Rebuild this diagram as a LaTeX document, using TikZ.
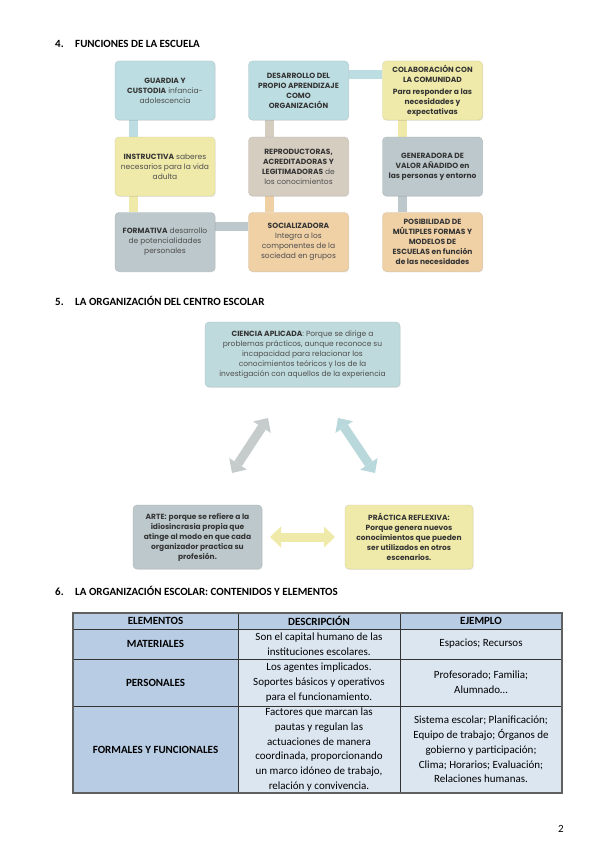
\documentclass[tikz,border=0pt]{standalone}
\usepackage{fontspec}
\setmainfont{Carlito}
\newfontfamily\gothic{Poppins}
\usetikzlibrary{calc,shadows,arrows.meta,backgrounds}
\definecolor{cblue}{HTML}{BCDDE1}
\definecolor{cyel}{HTML}{EFEAA9}
\definecolor{cgray}{HTML}{BCC8CB}
\definecolor{ctan}{HTML}{D6CDC1}
\definecolor{cpeach}{HTML}{F0D0A5}
\definecolor{cciencia}{HTML}{BFDADC}
\definecolor{carL}{HTML}{C6CCCC}
\definecolor{carR}{HTML}{B9D8DC}
\definecolor{txtb}{HTML}{353535}
\definecolor{txtn}{HTML}{4E4E4E}
\definecolor{thead}{HTML}{B8CCE4}
\definecolor{tcell}{HTML}{DCE6F1}
\newcommand\bx[1]{{\bfseries\color{txtb}#1}}
\begin{document}
\begin{tikzpicture}[x=1pt,y=-1pt,
  fbox/.style={rounded corners=4pt, minimum width=100pt, minimum height=59pt,
    inner sep=1pt, align=center, text=txtn,
    font=\gothic\fontsize{7.5}{10}\selectfont,
    fill=#1, draw=#1!88!black, line width=0.3pt,
    drop shadow={opacity=0.18, shadow xshift=0.7pt, shadow yshift=-0.9pt}},
  bar/.style={line width=9pt, draw=#1},
  barrow/.style={line width=9pt, draw=#1,
    arrows={Triangle[width=21pt,length=11pt,line width=0pt]-Triangle[width=21pt,length=11pt,line width=0pt]}},
  head/.style={anchor=base west, inner sep=0pt, font=\bfseries\fontsize{11}{13}\selectfont},
  cell/.style={align=center, inner sep=0pt, font=\fontsize{11}{14.8}\selectfont}]
\useasboundingbox (0,0) rectangle (599,848);

% ---------- Section 4 ----------
\node[head] (h4n) at (55,48) {4.};
\node[head] (h4) at (75,48) {FUNCIONES DE LA ESCUELA};

\node[fbox=cblue] (g) at (165,90.5) {\bx{GUARDIA Y}\\\bx{CUSTODIA} infancia-\\adolescencia};
\node[fbox=cyel] (i) at (165,166.5) {\bx{INSTRUCTIVA} saberes\\necesarios para la vida\\adulta};
\node[fbox=cgray] (f) at (165,242) {\bx{FORMATIVA} desarrollo\\de potencialidades\\personales};
\node[fbox=cpeach] (s) at (298.5,242) {\bx{SOCIALIZADORA}\\Integra a los\\componentes de la\\sociedad en grupos};
\node[fbox=ctan] (r) at (298.5,166.5) {\bx{REPRODUCTORAS,}\\\bx{ACREDITADORAS Y}\\\bx{LEGITIMADORAS} de\\los conocimientos};
\node[fbox=cblue] (d) at (298.5,90.5) {\bx{DESARROLLO DEL}\\\bx{PROPIO APRENDIZAJE}\\\bx{COMO}\\\bx{ORGANIZACIÓN}};
\node[fbox=cyel] (c) at (432.5,90.5) {\bx{COLABORACIÓN CON}\\\bx{LA COMUNIDAD}\\[2pt]\bx{Para responder a las}\\\bx{necesidades y}\\\bx{expectativas}};
\node[fbox=cgray] (v) at (432.5,166.5) {\bx{GENERADORA DE}\\\bx{VALOR AÑADIDO en}\\\bx{las personas y entorno}};
\node[fbox=cpeach] (p) at (432.5,242) {\bx{POSIBILIDAD DE}\\\bx{MÚLTIPLES FORMAS Y}\\\bx{MODELOS DE}\\\bx{ESCUELAS en función}\\\bx{de las necesidades}};

\begin{scope}[on background layer]
  \fill[white] (0,0) rectangle (599,848);
  \draw[bar=cblue]  ($(g.south west)+(18.5,0)$) -- ($(i.north west)+(18.5,0)$);
  \draw[bar=cyel]   ($(i.south west)+(18.5,0)$) -- ($(f.north west)+(18.5,0)$);
  \draw[bar=cgray]  ($(f.north east)+(0,14.5)$) -- ($(s.north west)+(0,14.5)$);
  \draw[bar=cpeach] ($(s.north west)+(21,0)$) -- ($(r.south west)+(21,0)$);
  \draw[bar=ctan]   ($(r.north west)+(21,0)$) -- ($(d.south west)+(21,0)$);
  \draw[bar=cblue]  ($(d.north east)+(0,14)$) -- ($(c.north west)+(0,14)$);
  \draw[bar=cyel]   ($(c.south west)+(20.5,0)$) -- ($(v.north west)+(20.5,0)$);
  \draw[bar=cgray]  ($(v.south west)+(20.5,0)$) -- ($(p.north west)+(20.5,0)$);
\end{scope}

% ---------- Section 5 ----------
\node[head] (h5n) at (55,305) {5.};
\node[head] (h5) at (75,305) {LA ORGANIZACIÓN DEL CENTRO ESCOLAR};

\node[fbox=cciencia, minimum width=195pt, minimum height=65pt] (cien) at (302.5,354.5)
  {\bx{CIENCIA APLICADA}: Porque se dirige a\\problemas prácticos, aunque reconoce su\\incapacidad para relacionar los\\conocimientos teóricos y los de la\\investigación con aquellos de la experiencia};
\node[fbox=cgray, minimum width=129pt, minimum height=64pt] (arte) at (197.5,537)
  {\bx{ARTE:} \bx{porque se refiere a la}\\\bx{idiosincrasia propia que}\\\bx{atinge al modo en que cada}\\\bx{organizador practica su}\\\bx{profesión.}};
\node[fbox=cyel, minimum width=128pt, minimum height=64pt] (prac) at (409,537)
  {\bx{PRÁCTICA REFLEXIVA:}\\\bx{Porque genera nuevos}\\\bx{conocimientos que pueden}\\\bx{ser utilizados en otros}\\\bx{escenarios.}};

\coordinate (la1) at (232,473); \coordinate (la2) at (268,418);
\coordinate (ra1) at (338,418); \coordinate (ra2) at (375,473);
\coordinate (ha1) at (270,537); \coordinate (ha2) at (335,537);
\draw[barrow=carL] (la1) -- (la2);
\draw[barrow=carR] (ra1) -- (ra2);
\draw[barrow=cyel] (ha1) -- (ha2);

% ---------- Section 6 ----------
\node[head] (h6n) at (55,595) {6.};
\node[head] (h6) at (75,595) {LA ORGANIZACIÓN ESCOLAR: CONTENIDOS Y ELEMENTOS};

\fill[tcell] (238,629) rectangle (562,793);
\fill[thead] (73,613) rectangle (562,629);
\fill[thead] (73,629) rectangle (238,793);
\draw[black!80, line width=0.6pt] (238,613) -- (238,793) (400,613) -- (400,793)
  (73,629) -- (562,629) (73,659) -- (562,659) (73,706) -- (562,706);
\draw[gray!75!black, line width=1.2pt] (73,613) rectangle (562,793);

\node[cell] (t11) at (155.5,621) {\bfseries ELEMENTOS};
\node[cell] (t12) at (319,621) {\bfseries DESCRIPCIÓN};
\node[cell] (t13) at (481,621) {\bfseries EJEMPLO};
\node[cell] (t21) at (155.5,644) {\bfseries MATERIALES};
\node[cell] (t22) at (319,644) {Son el capital humano de las\\instituciones escolares.};
\node[cell] (t23) at (481,644) {Espacios; Recursos};
\node[cell] (t31) at (155.5,682.5) {\bfseries PERSONALES};
\node[cell] (t32) at (319,682.5) {Los agentes implicados.\\Soportes básicos y operativos\\para el funcionamiento.};
\node[cell] (t33) at (481,682.5) {Profesorado; Familia;\\Alumnado…};
\node[cell] (t41) at (155.5,749.5) {\bfseries FORMALES Y FUNCIONALES};
\node[cell] (t42) at (319,749.5) {Factores que marcan las\\pautas y regulan las\\actuaciones de manera\\coordinada, proporcionando\\un marco idóneo de trabajo,\\relación y convivencia.};
\node[cell] (t43) at (481,749.5) {Sistema escolar; Planificación;\\Equipo de trabajo; Órganos de\\gobierno y participación;\\Clima; Horarios; Evaluación;\\Relaciones humanas.};

\node[anchor=base, inner sep=0pt, font=\fontsize{11}{13}\selectfont] (pg) at (561,832) {2};
\end{tikzpicture}
\end{document}
